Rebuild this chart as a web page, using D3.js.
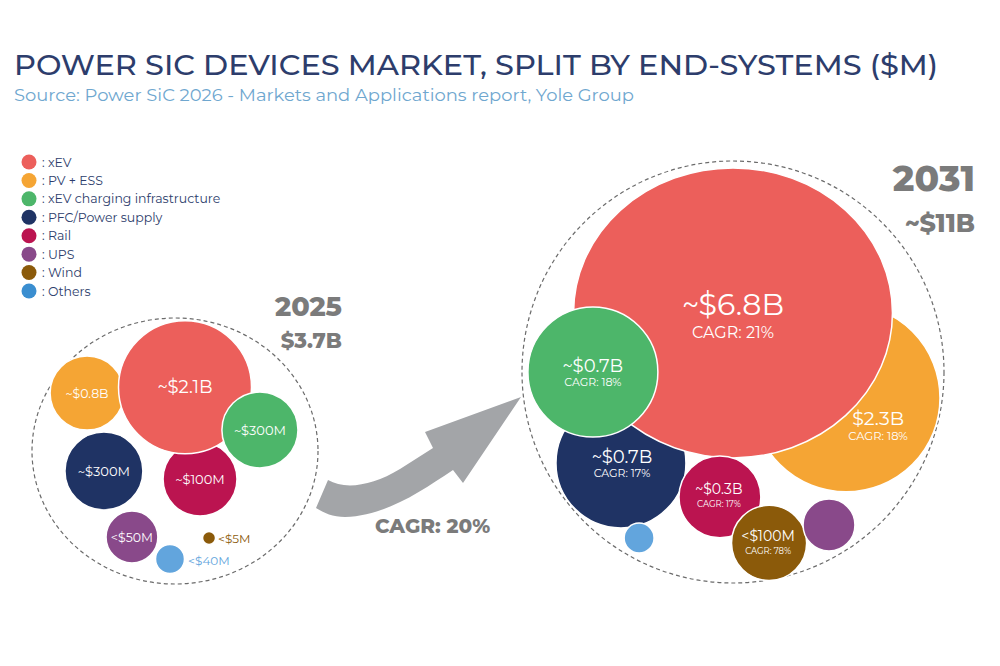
<!DOCTYPE html>
<html>
<head>
<meta charset="utf-8">
<script src="https://cdn.jsdelivr.net/npm/d3@7"></script>
<style>
  body { margin: 0; background: #fff; }
  svg { display: block; font-family: "Montserrat", "Noto Sans", sans-serif; }
</style>
</head>
<body>
<div id="chart"></div>
<script>
// 数据
const segments = ["xEV", "PV + ESS", "xEV charging infrastructure", "PFC/Power supply", "Rail", "UPS", "Wind", "Others"];
const values2025 = [2100, 800, 300, 300, 100, 50, 5, 40];
const labels2025 = ["~$2.1B", "~$0.8B", "~$300M", "~$300M", "~$100M", "<$50M", "<$5M", "<$40M"];
const values2031 = [6800, 2300, 700, 700, 300, null, 100, null];
const labels2031 = ["~$6.8B", "$2.3B", "~$0.7B", "~$0.7B", "~$0.3B", "", "<$100M", ""];
const cagr2031 = ["CAGR: 21%", "CAGR: 18%", "CAGR: 18%", "CAGR: 17%", "CAGR: 17%", "", "CAGR: 78%", ""];
const years = ["2025", "2031"];
const totals = ["$3.7B", "~$11B"];
const cagrTotal = "CAGR: 20%";

// 颜色
const palette = ["#ec5f5b", "#f5a534", "#4db66a", "#1f3364", "#bb1450", "#89498a", "#8b5a0a", "#62a5dd"];
const legendPalette = ["#ec5f5b", "#f5a534", "#4db66a", "#1f3364", "#bb1450", "#89498a", "#8b5a0a", "#3a8ed0"];

// 气泡布局 (单位: 簇半径), [dx, dy, r, 横纵比]
const layout2025 = [
  [0.07, -0.48, 0.50, 1], [-0.615, -0.436, 0.278, 1], [0.594, -0.158, 0.286, 1], [-0.497, 0.15, 0.293, 1],
  [0.175, 0.211, 0.278, 1], [-0.301, 0.647, 0.195, 1], [0.238, 0.654, 0.049, 1], [-0.035, 0.812, 0.109, 1]
];
const layout2031 = [
  [0, -0.28, 0.687, 1.10], [0.536, 0.123, 0.445, 1], [-0.664, 0, 0.308, 1], [-0.531, 0.431, 0.308, 1],
  [-0.062, 0.592, 0.194, 1], [0.455, 0.725, 0.123, 1], [0.171, 0.81, 0.178, 1], [-0.445, 0.787, 0.071, 1]
];
// 标签样式: [dx, dy, 字号, 锚点, 颜色]
const labelStyle2025 = [
  [0, 6, 18, "middle", "#fff"], [0, 4.5, 12.5, "middle", "#fff"], [0, 5, 13, "middle", "#fff"], [0, 5, 13, "middle", "#fff"],
  [0, 4.5, 13, "middle", "#fff"], [0, 5, 12.5, "middle", "#fff"], [9, 5, 12, "start", "#8b5a0a"], [18, 6, 12, "start", "#62a5dd"]
];
// [dx, dy, 字号, CAGR dy, CAGR 字号]
const labelStyle2031 = [
  [0, 2, 30, 25, 16], [32, 27, 19, 42, 11.5], [0, 0, 18, 14, 11], [1, 0, 18, 14, 11],
  [-1, -3, 14, 10, 8.5], [0, 0, 0, 0, 0], [-1, -2, 14, 11, 8.5], [0, 0, 0, 0, 0]
];

const clusters = [
  {cx: 175, cy: 451, rx: 143, ry: 133, layout: layout2025, order: [1, 4, 3, 5, 7, 6, 0, 2]},
  {cx: 733, cy: 372, rx: 211, ry: 211, layout: layout2031, order: [1, 3, 0, 2, 4, 6, 5, 7]}
];

const width = 1000, height = 666;
const svg = d3.select("#chart").append("svg").attr("width", width).attr("height", height);
svg.append("rect").attr("width", width).attr("height", height).attr("fill", "#fff");

// 标题
svg.append("text").attr("x", 14).attr("y", 75)
  .attr("textLength", 924).attr("lengthAdjust", "spacingAndGlyphs")
  .style("font-size", "27px").style("font-weight", 500).style("fill", "#2d3d6c")
  .text("POWER SIC DEVICES MARKET, SPLIT BY END-SYSTEMS ($M)");
svg.append("text").attr("x", 14).attr("y", 101)
  .attr("textLength", 620).attr("lengthAdjust", "spacingAndGlyphs")
  .style("font-size", "16.5px").style("fill", "#6fa7cf")
  .text("Source: Power SiC 2026 - Markets and Applications report, Yole Group");

// 图例
const legendY = d3.scalePoint().domain(segments).range([162, 291]);
const legend = svg.append("g");
legend.selectAll("circle").data(segments).join("circle")
  .attr("cx", 29).attr("cy", d => legendY(d)).attr("r", 7.5)
  .attr("fill", (d, i) => legendPalette[i]);
legend.selectAll("text").data(segments).join("text")
  .attr("x", 42).attr("y", d => legendY(d) + 4.5)
  .style("font-size", "12.5px").style("fill", "#2d3d6c")
  .text(d => ": " + d);

// 气泡簇
clusters.forEach((c, k) => {
  const x = d3.scaleLinear().domain([-1, 1]).range([c.cx - c.rx, c.cx + c.rx]);
  const y = d3.scaleLinear().domain([-1, 1]).range([c.cy - c.ry, c.cy + c.ry]);
  const r = d3.scaleLinear().domain([0, 1]).range([0, c.ry]);
  const g = svg.append("g");

  g.append("ellipse").attr("cx", c.cx).attr("cy", c.cy).attr("rx", c.rx).attr("ry", c.ry)
    .attr("fill", "none").attr("stroke", "#6b6b6b").attr("stroke-width", 1.2).attr("stroke-dasharray", "4,3");

  g.selectAll("ellipse.bubble").data(c.order).join("ellipse")
    .attr("class", "bubble")
    .attr("cx", i => x(c.layout[i][0])).attr("cy", i => y(c.layout[i][1]))
    .attr("rx", i => r(c.layout[i][2]) * c.layout[i][3]).attr("ry", i => r(c.layout[i][2]))
    .attr("fill", i => palette[i]).attr("stroke", "#fff").attr("stroke-width", 1.5);

  if (k === 0) {
    g.selectAll("text.lbl").data(labels2025).join("text")
      .attr("class", "lbl")
      .attr("x", (d, i) => x(c.layout[i][0]) + labelStyle2025[i][0])
      .attr("y", (d, i) => y(c.layout[i][1]) + labelStyle2025[i][1])
      .attr("text-anchor", (d, i) => labelStyle2025[i][3])
      .style("font-size", (d, i) => labelStyle2025[i][2] + "px")
      .style("fill", (d, i) => labelStyle2025[i][4])
      .text(d => d);
  } else {
    g.selectAll("text.lbl").data(labels2031).join("text")
      .attr("class", "lbl")
      .attr("x", (d, i) => x(c.layout[i][0]) + labelStyle2031[i][0])
      .attr("y", (d, i) => y(c.layout[i][1]) + labelStyle2031[i][1])
      .attr("text-anchor", "middle")
      .style("font-size", (d, i) => labelStyle2031[i][2] + "px")
      .style("fill", "#fff")
      .text(d => d);
    g.selectAll("text.cagr").data(cagr2031).join("text")
      .attr("class", "cagr")
      .attr("x", (d, i) => x(c.layout[i][0]) + labelStyle2031[i][0])
      .attr("y", (d, i) => y(c.layout[i][1]) + labelStyle2031[i][3])
      .attr("text-anchor", "middle")
      .style("font-size", (d, i) => labelStyle2031[i][4] + "px")
      .style("fill", "#fff")
      .text(d => d);
  }
});

// 年份与总额
const yearStyle = [{x: 342, y: 316, s: 27, ty: 348, ts: 21}, {x: 975, y: 191, s: 36, ty: 232, ts: 25}];
years.forEach((yr, k) => {
  const st = yearStyle[k];
  svg.append("text").attr("x", st.x).attr("y", st.y).attr("text-anchor", "end")
    .style("font-size", st.s + "px").style("font-weight", 800).style("fill", "#7b7b7b").text(yr);
  svg.append("text").attr("x", st.x).attr("y", st.ty).attr("text-anchor", "end")
    .style("font-size", st.ts + "px").style("font-weight", 800).style("fill", "#7b7b7b").text(totals[k]);
});

// 增长箭头
svg.append("path")
  .attr("d", "M316,508 L328,480 C345,490 372,486 400,469 L433,448 L425,432 L521,397 L463,483 L453,470 C420,492 385,516 345,517 C333,517 324,513 316,508 Z")
  .attr("fill", "#a3a5a8");
svg.append("text").attr("x", 375).attr("y", 533)
  .style("font-size", "20px").style("font-weight", 800).style("fill", "#7b7b7b")
  .text(cagrTotal);
</script>
</body>
</html>
